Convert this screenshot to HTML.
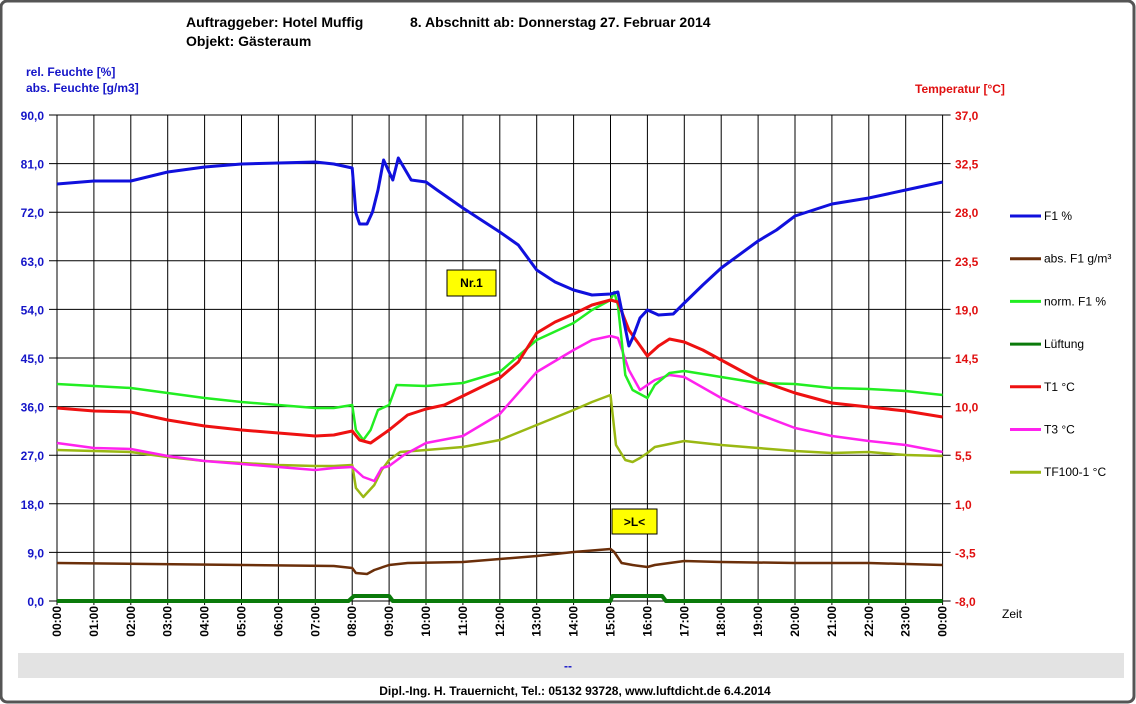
<!DOCTYPE html>
<html><head><meta charset="utf-8"><style>
body{margin:0;background:#fff}
svg{display:block;font-family:"Liberation Sans",Arial,sans-serif}
</style></head><body>
<svg id="s" width="1136" height="704" viewBox="0 0 1136 704" xmlns="http://www.w3.org/2000/svg">
<rect x="1" y="1" width="1133" height="701" rx="6" fill="#fff" stroke="#555" stroke-width="3"/>
<text x="186" y="27" font-size="14" font-weight="bold">Auftraggeber: Hotel Muffig</text>
<text x="410" y="27" font-size="14" font-weight="bold">8. Abschnitt ab: Donnerstag 27. Februar 2014</text>
<text x="186" y="46" font-size="14" font-weight="bold">Objekt: Gästeraum</text>
<text x="26" y="76" font-size="12" font-weight="bold" fill="#1515c8">rel. Feuchte [%]</text>
<text x="26" y="92" font-size="12" font-weight="bold" fill="#1515c8">abs. Feuchte [g/m3]</text>
<text x="915" y="93" font-size="12" font-weight="bold" fill="#e01010">Temperatur [°C]</text>
<g id="grid"></g>
<g id="series"></g>
<rect x="447" y="270" width="49" height="26" fill="#ffff00" stroke="#000"/>
<text x="471.5" y="287" font-size="12" font-weight="bold" text-anchor="middle">Nr.1</text>
<rect x="612" y="509" width="45" height="25" fill="#ffff00" stroke="#000"/>
<text x="634.5" y="526" font-size="12" font-weight="bold" text-anchor="middle">&gt;L&lt;</text>
<g id="legend" font-size="12"></g>
<text x="1002" y="618" font-size="12">Zeit</text>
<rect x="18" y="653" width="1106" height="25" fill="#e3e3e3"/>
<text x="568" y="670" font-size="12" font-weight="bold" fill="#1515c8" text-anchor="middle">--</text>
<text x="575" y="695" font-size="12" font-weight="bold" text-anchor="middle">Dipl.-Ing. H. Trauernicht, Tel.: 05132 93728, www.luftdicht.de 6.4.2014</text>
</svg>
<script>
var NS="http://www.w3.org/2000/svg";
function el(p,t,a,txt){var e=document.createElementNS(NS,t);for(var k in a)e.setAttribute(k,a[k]);if(txt!=null)e.textContent=txt;document.getElementById(p).appendChild(e);return e;}
var X0=57,DX=36.9,Y0=115,Y1=601;
function X(h){return X0+h*DX;}
for(var i=0;i<=10;i++){var y=Y0+i*48.6;
 el("grid","line",{x1:X0-8,x2:X(24)+8,y1:y,y2:y,stroke:"#000","stroke-width":1});
 el("grid","text",{x:44,y:y+5,"font-size":12,"font-weight":"bold",fill:"#1515c8","text-anchor":"end"},(90-9*i).toFixed(1).replace(".",","));
 el("grid","text",{x:955,y:y+5,"font-size":12,"font-weight":"bold",fill:"#e01010"},(37-4.5*i).toFixed(1).replace(".",","));
}
for(var h=0;h<=24;h++){var x=X(h);
 el("grid","line",{x1:x,x2:x,y1:Y0,y2:Y1+4,stroke:"#000","stroke-width":1});
 var hh=(h%24<10?"0":"")+(h%24)+":00";
 el("grid","text",{x:0,y:0,"font-size":12,"font-weight":"bold","text-anchor":"end",transform:"translate("+(x+4)+",606) rotate(-90)"},hh);
}
function S(c,w,pts){var s="";for(var i=0;i<pts.length;i+=2)s+=X(pts[i]).toFixed(1)+","+pts[i+1]+" ";el("series","polyline",{points:s,fill:"none",stroke:c,"stroke-width":w,"stroke-linejoin":"round"});}
S("#6b2f0a",2.5,[0,563,7.5,566,8,568,8.1,573,8.4,574,8.6,570,9,565,9.5,563,11,562,12,559,13,556,14,552,15,549,15.1,552,15.3,563,15.6,565,16,567,16.2,565,17,561,18,562,20,563,22,563,24,565]);
S("#9ab813",2.5,[0,450,1,451,2,452,3,457,4,461,5,463,6,465,7,466,7.5,466,8,465,8.1,488,8.3,497,8.6,485,8.8,470,9,460,9.3,452,10,450,11,447,12,440,13,425,14,410,14.5,402,15,395,15.15,445,15.4,460,15.6,462,15.8,458,16,453,16.2,447,16.6,444,17,441,18,445,19,448,20,451,21,453,22,452,23,455,24,456]);
S("#ff22ee",2.5,[0,443,1,448,2,449,3,456,4,461,5,464,6,467,7,470,7.5,468,8,467,8.3,477,8.6,481,8.8,468,9,466,9.4,455,10,443,11,436,12,414,13,372,14,350,14.5,340,15,336,15.2,338,15.5,370,15.8,390,16.2,380,16.6,375,17,377,18,398,19,414,20,428,21,436,22,441,23,445,24,452]);
S("#22ee22",2.5,[0,384,1,386,2,388,3,393,4,398,5,402,6,405,7,408,7.5,408,8,405,8.1,430,8.3,440,8.5,430,8.7,410,9,405,9.2,385,10,386,11,383,12,372,12.5,356,13,340,14,323,14.5,310,15,300,15.1,292,15.2,305,15.4,375,15.6,390,16,398,16.2,385,16.6,373,17,371,17.5,374,18,377,19,383,20,384,21,388,22,389,23,391,24,395]);
S("#ee1111",3,[0,408,1,411,2,412,3,420,4,426,5,430,6,433,7,436,7.5,435,8,431,8.2,440,8.5,443,9,430,9.5,415,10,409,10.5,405,11,396,12,378,12.5,362,13,333,13.5,322,14,314,14.5,305,15,300,15.2,302,15.5,330,16,356,16.3,346,16.6,339,17,342,17.5,350,18,360,19,380,20,393,21,403,22,407,23,411,24,417]);
S("#1010dd",3,[0,184,1,181,2,181,3,172,4,167,5,164,6,163,7,162,7.5,164,8,168,8.1,213,8.2,224,8.4,224,8.55,212,8.7,190,8.85,160,9.1,180,9.25,158,9.6,180,10,182,10.3,190,11,208,11.5,220,12,232,12.5,245,13,270,13.5,282,14,290,14.5,295,15,294,15.2,292,15.3,310,15.5,346,15.6,338,15.8,318,16,310,16.3,315,16.7,314,17,303,17.5,285,18,268,19,241,19.5,230,20,216,21,204,22,198,23,190,24,182]);
S("#0a7a0a",4,[0,601,7.9,601,8.05,596,9.0,596,9.1,601,15.0,601,15.05,596,16.4,596,16.5,601,24,601]);
var L=[["F1 %","#1010dd"],["abs. F1 g/m³","#6b2f0a"],["norm. F1 %","#22ee22"],["Lüftung","#0a7a0a"],["T1 °C","#ee1111"],["T3 °C","#ff22ee"],["TF100-1 °C","#9ab813"]];
L.forEach(function(l,i){var y=216+i*42.7;el("legend","line",{x1:1010,x2:1041,y1:y,y2:y,stroke:l[1],"stroke-width":3});el("legend","text",{x:1044,y:y+4},l[0]);});
</script>
</body></html>
